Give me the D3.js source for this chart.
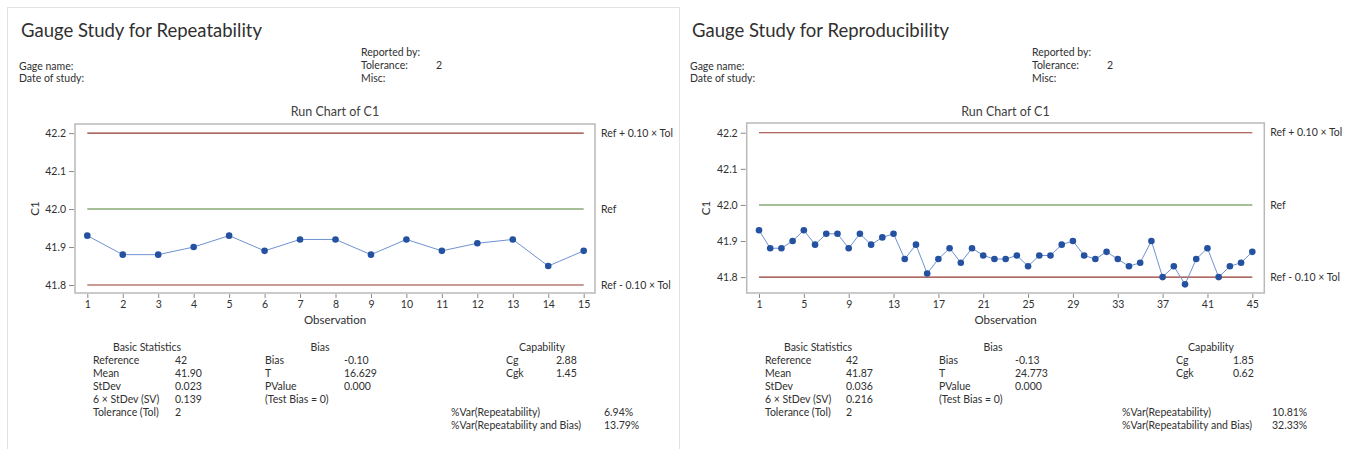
<!DOCTYPE html>
<html>
<head>
<meta charset="utf-8">
<script src="https://d3js.org/d3.v7.min.js"></script>
<style>
  body { margin: 0; background: #fff; }
  svg { display: block; font-family: Lato, "Noto Sans", sans-serif; }
</style>
</head>
<body>
<div id="chart"></div>
<script>
// C1 measurements, one per observation
const repeatabilityC1 = [41.93, 41.88, 41.88, 41.90, 41.93, 41.89, 41.92, 41.92, 41.88, 41.92,
  41.89, 41.91, 41.92, 41.85, 41.89];
const reproducibilityC1 = [41.93, 41.88, 41.88, 41.90, 41.93, 41.89, 41.92, 41.92, 41.88, 41.92,
  41.89, 41.91, 41.92, 41.85, 41.89, 41.81, 41.85, 41.88, 41.84, 41.88,
  41.86, 41.85, 41.85, 41.86, 41.83, 41.86, 41.86, 41.89, 41.90, 41.86,
  41.85, 41.87, 41.85, 41.83, 41.84, 41.90, 41.80, 41.83, 41.78, 41.85,
  41.88, 41.80, 41.83, 41.84, 41.87];

const repeatabilityTicks = [1, 2, 3, 4, 5, 6, 7, 8, 9, 10, 11, 12, 13, 14, 15];
const reproducibilityTicks = [1, 5, 9, 13, 17, 21, 25, 29, 33, 37, 41, 45];
const yTicks = [41.8, 41.9, 42.0, 42.1, 42.2];

const refValues = [42.2, 42.0, 41.8];
const refLabels = ["Ref + 0.10 × Tol", "Ref", "Ref - 0.10 × Tol"];

const panelTitles = ["Gauge Study for Repeatability", "Gauge Study for Reproducibility"];

const basicLabels = ["Reference", "Mean", "StDev", "6 × StDev (SV)", "Tolerance (Tol)"];
const repeatabilityBasic = ["42", "41.90", "0.023", "0.139", "2"];
const reproducibilityBasic = ["42", "41.87", "0.036", "0.216", "2"];

const biasLabels = ["Bias", "T", "PValue", "(Test Bias = 0)"];
const repeatabilityBias = ["-0.10", "16.629", "0.000", ""];
const reproducibilityBias = ["-0.13", "24.773", "0.000", ""];

const capLabels = ["Cg", "Cgk"];
const repeatabilityCap = ["2.88", "1.45"];
const reproducibilityCap = ["1.85", "0.62"];

const varLabels = ["%Var(Repeatability)", "%Var(Repeatability and Bias)"];
const repeatabilityVar = ["6.94%", "13.79%"];
const reproducibilityVar = ["10.81%", "32.33%"];

const refColors = ["#93392f", "#4f8035", "#93392f"];
const textColor = "#303030";

class GaugeRunPanel {
  constructor(_config, _data) {
    this.config = _config;
    this.data = _data;
    this.initVis();
  }

  initVis() {
    let vis = this;
    const c = vis.config;

    vis.g = c.svg.append("g").attr("transform", `translate(${c.offsetX},0)`);

    // header
    vis.g.append("text")
      .attr("x", 21).attr("y", 37)
      .attr("font-size", 18.5).attr("fill", textColor)
      .text(c.title);

    const header = [
      { x: 19, y: 70, t: "Gage name:" },
      { x: 19, y: 82, t: "Date of study:" },
      { x: 361, y: 56, t: "Reported by:" },
      { x: 361, y: 69, t: "Tolerance:" },
      { x: 436, y: 69, t: "2" },
      { x: 361, y: 82, t: "Misc:" },
    ];
    vis.g.selectAll(".hdr")
      .data(header)
      .join("text")
      .attr("class", "hdr")
      .attr("x", (d) => d.x).attr("y", (d) => d.y)
      .attr("font-size", 10.5).attr("fill", textColor)
      .text((d) => d.t);

    vis.xScale = d3.scaleLinear()
      .domain([1, vis.data.length])
      .range(c.xRange);
    vis.yScale = d3.scaleLinear()
      .domain(c.yDomain)
      .range([c.frameBottom, c.frameTop]);

    const fx0 = c.frameX[0], fx1 = c.frameX[1];

    vis.g.append("text")
      .attr("x", (fx0 + fx1) / 2).attr("y", 116)
      .attr("text-anchor", "middle")
      .attr("font-size", 12.5).attr("fill", "#404040")
      .text("Run Chart of C1");

    vis.g.append("rect")
      .attr("x", fx0).attr("y", c.frameTop)
      .attr("width", fx1 - fx0).attr("height", c.frameBottom - c.frameTop)
      .attr("fill", "none").attr("stroke", "#b9b9b9").attr("stroke-width", 1.5);

    // axes
    const yAxis = vis.g.append("g")
      .attr("transform", `translate(${fx0 - 1},0)`)
      .call(d3.axisLeft(vis.yScale).tickValues(yTicks).tickFormat(d3.format(".1f"))
        .tickSize(5).tickPadding(3));
    const xAxis = vis.g.append("g")
      .attr("transform", `translate(0,${c.frameBottom + 1})`)
      .call(d3.axisBottom(vis.xScale).tickValues(c.xTicks).tickFormat(d3.format("d"))
        .tickSize(4).tickPadding(3));
    [yAxis, xAxis].forEach((a) => {
      a.select(".domain").remove();
      a.selectAll(".tick line").attr("stroke", "#8a8a8a");
      a.selectAll(".tick text").attr("fill", textColor).attr("font-size", 10.5);
      a.attr("font-family", null);
    });

    vis.g.append("text")
      .attr("x", (fx0 + fx1) / 2).attr("y", 324)
      .attr("text-anchor", "middle")
      .attr("font-size", 11.5).attr("fill", textColor)
      .text("Observation");

    vis.g.append("text")
      .attr("transform", `translate(39,${(c.frameTop + c.frameBottom) / 2}) rotate(-90)`)
      .attr("text-anchor", "middle")
      .attr("font-size", 11.5).attr("fill", textColor)
      .text("C1");

    this.updateVis();
  }

  updateVis() {
    let vis = this;
    const c = vis.config;
    const n = vis.data.length;

    // reference lines
    vis.g.selectAll(".ref")
      .data(refValues)
      .join("line")
      .attr("class", "ref")
      .attr("x1", vis.xScale(1)).attr("x2", vis.xScale(n))
      .attr("y1", (d) => vis.yScale(d)).attr("y2", (d) => vis.yScale(d))
      .attr("stroke", (d, i) => refColors[i]).attr("stroke-width", 1.1);

    vis.g.selectAll(".refLabel")
      .data(refValues)
      .join("text")
      .attr("class", "refLabel")
      .attr("x", c.frameX[1] + 6)
      .attr("y", (d) => vis.yScale(d))
      .attr("dy", "0.35em")
      .attr("font-size", 10.5).attr("fill", textColor)
      .text((d, i) => refLabels[i]);

    const line = d3.line()
      .x((d, i) => vis.xScale(i + 1))
      .y((d) => vis.yScale(d));

    vis.g.append("path")
      .datum(vis.data)
      .attr("d", line)
      .attr("fill", "none")
      .attr("stroke", "#6f92d2")
      .attr("stroke-width", 1);

    vis.g.selectAll(".pt")
      .data(vis.data)
      .join("circle")
      .attr("class", "pt")
      .attr("cx", (d, i) => vis.xScale(i + 1))
      .attr("cy", (d) => vis.yScale(d))
      .attr("r", 3.3)
      .attr("fill", "#2451a0");

    this.renderStats();
  }

  renderStats() {
    let vis = this;
    const c = vis.config;
    const s = c.stats;
    const rowY = (i) => 364 + i * 13;

    const addText = (x, y, t, anchor) => {
      vis.g.append("text")
        .attr("x", x).attr("y", y)
        .attr("text-anchor", anchor || "start")
        .attr("font-size", 10.5).attr("fill", textColor)
        .text(t);
    };

    addText(c.cols.basicHead, 351, "Basic Statistics", "middle");
    addText(c.cols.biasHead, 351, "Bias", "middle");
    addText(c.cols.capHead, 351, "Capability", "middle");

    basicLabels.forEach((l, i) => {
      addText(c.cols.basicLabel, rowY(i), l);
      addText(c.cols.basicValue, rowY(i), s.basic[i]);
    });
    biasLabels.forEach((l, i) => {
      addText(c.cols.biasLabel, rowY(i), l);
      addText(c.cols.biasValue, rowY(i), s.bias[i]);
    });
    capLabels.forEach((l, i) => {
      addText(c.cols.capLabel, rowY(i), l);
      addText(c.cols.capValue, rowY(i), s.cap[i]);
    });
    varLabels.forEach((l, i) => {
      addText(c.cols.varLabel, rowY(4 + i), l);
      addText(c.cols.varValue, rowY(4 + i), s.pvar[i]);
    });
  }
}

const svg = d3.select("#chart")
  .append("svg")
  .attr("width", 1346)
  .attr("height", 449);

// outer frame of the left report
svg.append("rect")
  .attr("x", 7.5).attr("y", 7.5)
  .attr("width", 672).attr("height", 470)
  .attr("fill", "none").attr("stroke", "#e2e2e2");

new GaugeRunPanel({
  svg: svg,
  offsetX: 0,
  title: panelTitles[0],
  xTicks: repeatabilityTicks,
  xRange: [87.3, 583.7],
  frameX: [75, 595],
  frameTop: 124,
  frameBottom: 293,
  yDomain: [41.779, 42.224],
  cols: { basicHead: 147, basicLabel: 93, basicValue: 175, biasHead: 320, biasLabel: 265, biasValue: 344,
    capHead: 542, capLabel: 506, capValue: 556, varLabel: 451, varValue: 604 },
  stats: { basic: repeatabilityBasic, bias: repeatabilityBias, cap: repeatabilityCap, pvar: repeatabilityVar },
}, repeatabilityC1);

new GaugeRunPanel({
  svg: svg,
  offsetX: 671,
  title: panelTitles[1],
  xTicks: reproducibilityTicks,
  xRange: [88, 581.3],
  frameX: [75.7, 593.3],
  frameTop: 123,
  frameBottom: 293,
  yDomain: [41.756, 42.227],
  cols: { basicHead: 147, basicLabel: 94, basicValue: 175, biasHead: 322, biasLabel: 268, biasValue: 344,
    capHead: 540, capLabel: 505, capValue: 562, varLabel: 451, varValue: 601 },
  stats: { basic: reproducibilityBasic, bias: reproducibilityBias, cap: reproducibilityCap, pvar: reproducibilityVar },
}, reproducibilityC1);
</script>
</body>
</html>
